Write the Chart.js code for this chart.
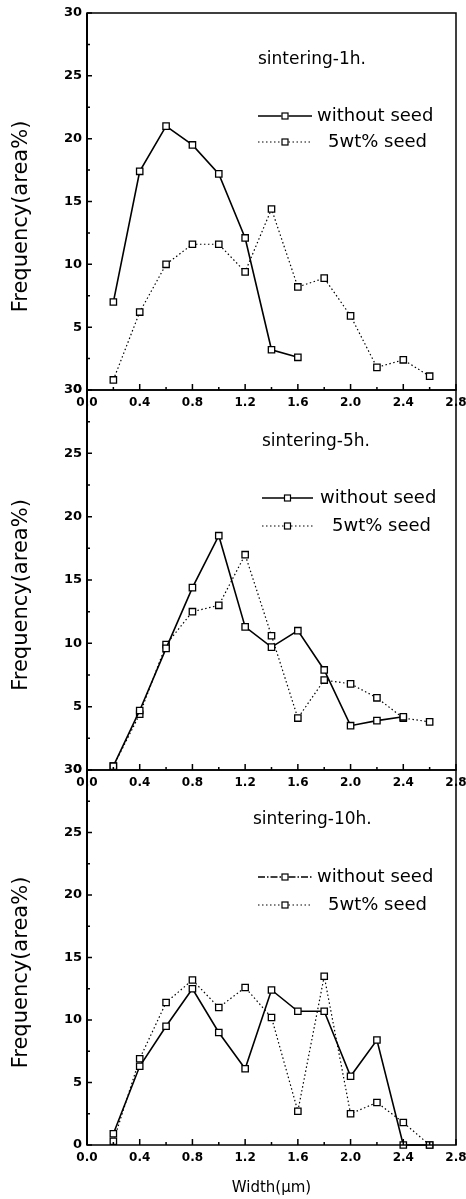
<!DOCTYPE html>
<html>
<head>
<meta charset="utf-8">
<script src="https://cdn.jsdelivr.net/npm/chart.js@4.4.0/dist/chart.umd.min.js"></script>
<style>
  html, body { margin: 0; padding: 0; background: #fff; }
  #wrap { position: relative; width: 466px; height: 1199px; }
  canvas { position: absolute; left: 0; top: 0; }
</style>
</head>
<body>
<div id="wrap">
  <canvas id="c1" width="466" height="1199"></canvas>
  <canvas id="c2" width="466" height="1199"></canvas>
  <canvas id="c3" width="466" height="1199"></canvas>
</div>
<script>
// grain width classes (um)
const widths = [0.2, 0.4, 0.6, 0.8, 1.0, 1.2, 1.4, 1.6, 1.8, 2.0, 2.2, 2.4, 2.6];
const xTicks = [0, 0.4, 0.8, 1.2, 1.6, 2.0, 2.4, 2.8];
const yTicks = [0, 5, 10, 15, 20, 25, 30];
const seriesNames = ["without seed", "5wt% seed"];
const panelTitles = ["sintering-1h.", "sintering-5h.", "sintering-10h."];
const yTitle = "Frequency(area%)";
const xTitle = "Width(\u03bcm)";

// frequency (area%)
const noSeed1h = [7.0, 17.4, 21.0, 19.5, 17.2, 12.1, 3.2, 2.6];
const seed1h = [0.8, 6.2, 10.0, 11.6, 11.6, 9.4, 14.4, 8.2, 8.9, 5.9, 1.8, 2.4, 1.1];
const noSeed5h = [0.3, 4.7, 9.6, 14.4, 18.5, 11.3, 9.7, 11.0, 7.9, 3.5, 3.9, 4.2];
const seed5h = [0.3, 4.4, 9.9, 12.5, 13.0, 17.0, 10.6, 4.1, 7.1, 6.8, 5.7, 4.1, 3.8];
const noSeed10h = [0.9, 6.3, 9.5, 12.5, 9.0, 6.1, 12.4, 10.7, 10.7, 5.5, 8.4, 0, 0];
const seed10h = [0.3, 6.9, 11.4, 13.2, 11.0, 12.6, 10.2, 2.7, 13.5, 2.5, 3.4, 1.8, 0];

const FONT = "'DejaVu Sans', 'Liberation Sans', Arial, sans-serif";

// where each panel sits on the page
const panels = [
  { id: "c1", title: panelTitles[0], noSeed: noSeed1h, seed: seed1h, top: 13, bottom: 390, xh: 30,
    titlePos: [258, 60], lineX: [258, 312], rowY: [116, 142], textX: [317, 328], dashDot: false, xTitle: false },
  { id: "c2", title: panelTitles[1], noSeed: noSeed5h, seed: seed5h, top: 390, bottom: 770, xh: 30,
    titlePos: [262, 442], lineX: [262, 313], rowY: [498, 526], textX: [320, 332], dashDot: false, xTitle: false },
  { id: "c3", title: panelTitles[2], noSeed: noSeed10h, seed: seed10h, top: 770, bottom: 1145, xh: 54,
    titlePos: [253, 820], lineX: [258, 312], rowY: [877, 905], textX: [317, 328], dashDot: true, xTitle: true }
];

function toPoints(vals) {
  return vals.map((v, i) => ({ x: widths[i], y: v }));
}

// frame, inward ticks, axis title, panel label and legend
const extras = {
  id: "extras",
  afterDraw(chart, args, opts) {
    const p = opts.panel;
    const ctx = chart.ctx;
    const a = chart.chartArea;
    const xs = chart.scales.x, ys = chart.scales.y;
    ctx.save();
    ctx.strokeStyle = "#000";
    ctx.fillStyle = "#000";

    // frame
    ctx.lineWidth = 1.5;
    ctx.strokeRect(a.left, a.top, a.right - a.left, a.bottom - a.top);
    ctx.lineWidth = 2;
    ctx.beginPath();
    ctx.moveTo(a.left, a.top);
    ctx.lineTo(a.left, a.bottom);
    ctx.stroke();

    // ticks pointing inward
    ctx.lineWidth = 1.5;
    ctx.beginPath();
    for (let i = 0; i < xTicks.length; i++) {
      const px = xs.getPixelForValue(xTicks[i]);
      ctx.moveTo(px, a.bottom);
      ctx.lineTo(px, a.bottom - 6);
      if (i < xTicks.length - 1) {
        const mx = xs.getPixelForValue((xTicks[i] + xTicks[i + 1]) / 2);
        ctx.moveTo(mx, a.bottom);
        ctx.lineTo(mx, a.bottom - 3);
      }
    }
    for (let i = 0; i < yTicks.length; i++) {
      const py = ys.getPixelForValue(yTicks[i]);
      ctx.moveTo(a.left, py);
      ctx.lineTo(a.left + 5, py);
      if (i < yTicks.length - 1) {
        const my = ys.getPixelForValue((yTicks[i] + yTicks[i + 1]) / 2);
        ctx.moveTo(a.left, my);
        ctx.lineTo(a.left + 3, my);
      }
    }
    ctx.stroke();

    // y axis title
    ctx.save();
    ctx.translate(22, (a.top + a.bottom) / 2 + 15);
    ctx.rotate(-Math.PI / 2);
    ctx.font = "21px " + FONT;
    ctx.textAlign = "center";
    ctx.textBaseline = "middle";
    ctx.fillText(yTitle, 0, 0);
    ctx.restore();

    // panel label
    ctx.font = "17px " + FONT;
    ctx.textAlign = "left";
    ctx.textBaseline = "middle";
    ctx.fillText(p.title, p.titlePos[0], p.titlePos[1]);

    // legend
    const dashes = [p.dashDot ? [7, 2, 1.5, 2] : [], [1.5, 2.5]];
    const widthsLine = [1.5, 1.2];
    ctx.font = "18px " + FONT;
    for (let k = 0; k < 2; k++) {
      const y = p.rowY[k];
      const mid = (p.lineX[0] + p.lineX[1]) / 2;
      ctx.setLineDash(dashes[k]);
      ctx.lineWidth = widthsLine[k];
      ctx.beginPath();
      ctx.moveTo(p.lineX[0], y);
      ctx.lineTo(mid - 3.5, y);
      ctx.moveTo(mid + 3.5, y);
      ctx.lineTo(p.lineX[1], y);
      ctx.stroke();
      ctx.setLineDash([]);
      ctx.lineWidth = 1.2;
      ctx.strokeRect(mid - 3, y - 3, 6, 6);
      ctx.fillText(seriesNames[k], p.textX[k], y);
    }
    ctx.restore();
  }
};

function makeChart(p) {
  const ctx = document.getElementById(p.id).getContext("2d");
  return new Chart(ctx, {
    type: "line",
    data: {
      datasets: [
        {
          label: seriesNames[0],
          data: toPoints(p.noSeed),
          borderColor: "#000",
          borderWidth: 1.6,
          pointStyle: "rect",
          pointRadius: 4.5,
          pointBorderWidth: 1.3,
          pointBorderColor: "#000",
          pointBackgroundColor: "#fff",
          clip: false
        },
        {
          label: seriesNames[1],
          data: toPoints(p.seed),
          borderColor: "#000",
          borderWidth: 1.2,
          borderDash: [1.5, 2.5],
          pointStyle: "rect",
          pointRadius: 4.5,
          pointBorderWidth: 1.3,
          pointBorderColor: "#000",
          pointBackgroundColor: "#fff",
          clip: false
        }
      ]
    },
    options: {
      responsive: false,
      animation: false,
      layout: { padding: { top: p.top, left: 0, right: 10, bottom: 1199 - p.bottom - p.xh } },
      plugins: {
        legend: { display: false },
        tooltip: { enabled: false },
        extras: { panel: p }
      },
      scales: {
        x: {
          type: "linear",
          min: 0,
          max: 2.8,
          afterBuildTicks: (s) => { s.ticks = xTicks.map((v) => ({ value: v })); },
          afterFit: (s) => {
            s.height = p.xh;
            s.paddingLeft = 0; s.paddingRight = 0; s.paddingTop = 0; s.paddingBottom = 0;
          },
          grid: { display: false, drawTicks: false },
          border: { display: false },
          ticks: {
            padding: 6,
            color: "#000",
            autoSkip: false,
            maxRotation: 0,
            font: { family: FONT, size: 12, weight: "bold" },
            callback: (v) => Number(v).toFixed(1)
          },
          title: {
            display: p.xTitle,
            text: xTitle,
            color: "#000",
            font: { family: FONT, size: 15 },
            padding: { top: 0, bottom: 2 }
          }
        },
        y: {
          min: 0,
          max: 30,
          afterBuildTicks: (s) => { s.ticks = yTicks.map((v) => ({ value: v })); },
          afterFit: (s) => {
            s.width = 87;
            s.paddingLeft = 0; s.paddingRight = 0; s.paddingTop = 0; s.paddingBottom = 0;
          },
          grid: { display: false, drawTicks: false },
          border: { display: false },
          ticks: {
            padding: 5,
            color: "#000",
            font: { family: FONT, size: 13, weight: "bold" }
          }
        }
      }
    },
    plugins: [extras]
  });
}

panels.forEach(makeChart);
</script>
</body>
</html>
